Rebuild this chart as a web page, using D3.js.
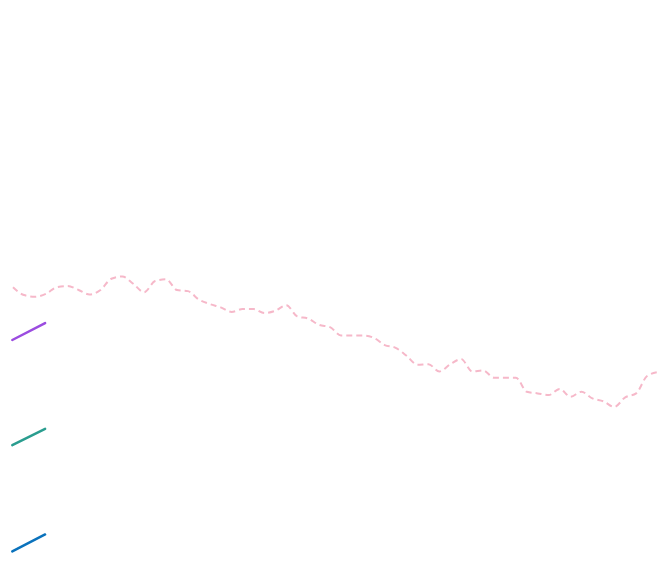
<!DOCTYPE html>
<html>
<head>
<meta charset="utf-8">
<script src="https://cdn.jsdelivr.net/npm/d3@7"></script>
<style>
  html, body { margin: 0; padding: 0; background: #ffffff; }
  svg { display: block; }
</style>
</head>
<body>
<svg id="chart" width="672" height="562"></svg>
<script>
// ---- data ----
const mainSeries = [
  48.9, 47.5, 47.2, 47.7, 48.9, 49.1, 48.4, 47.6, 48.4, 50.4,
  50.8, 49.5, 48.0, 50.0, 50.3, 48.4, 48.2, 46.7, 45.9, 45.3,
  44.5, 45.0, 45.0, 44.3, 44.7, 45.7, 43.7, 43.3, 42.2, 41.8,
  40.3, 40.3, 40.3, 39.9, 38.6, 38.1, 36.7, 35.1, 35.2, 33.9,
  35.2, 36.1, 33.9, 34.1, 32.8, 32.8, 32.8, 30.3, 30.0, 29.7,
  30.8, 29.4, 30.3, 29.1, 28.6, 27.6, 29.3, 30.0, 33.1, 33.8
];
const purpleSeries = [39.5, 42.5];
const tealSeries = [20.8, 23.7];
const blueSeries = [1.9, 4.9];

const seriesColors = {
  main: "#f6b8c9",
  purple: "#9b4ce0",
  teal: "#2a9d8f",
  blue: "#0a72bc"
};

// ---- layout ----
const W = 672, H = 562;
const svg = d3.select("#chart");

const x = d3.scaleLinear()
  .domain([0, mainSeries.length - 1])
  .range([13, 658]);
// short series span the first three steps of the index axis
const y = d3.scaleLinear().domain([0, 100]).range([H, 0]);

const line = d3.line()
  .x((d, i) => x(i))
  .y(d => y(d))
  .curve(d3.curveMonotoneX);

svg.append("path")
  .datum(mainSeries)
  .attr("fill", "none")
  .attr("stroke", seriesColors.main)
  .attr("stroke-width", 2)
  .attr("stroke-dasharray", "6,4")
  .attr("d", line);

const shortX = d3.scaleLinear().domain([0, 1]).range([x(0) - 0.7, x(3) - 0.7]);
const shortLine = d3.line()
  .x((d, i) => shortX(i))
  .y(d => y(d));

[[purpleSeries, seriesColors.purple], [tealSeries, seriesColors.teal], [blueSeries, seriesColors.blue]]
  .forEach(([data, color]) => {
    svg.append("path")
      .datum(data)
      .attr("fill", "none")
      .attr("stroke", color)
      .attr("stroke-width", 2.5)
      .attr("stroke-linecap", "round")
      .attr("d", shortLine);
  });
</script>
</body>
</html>
